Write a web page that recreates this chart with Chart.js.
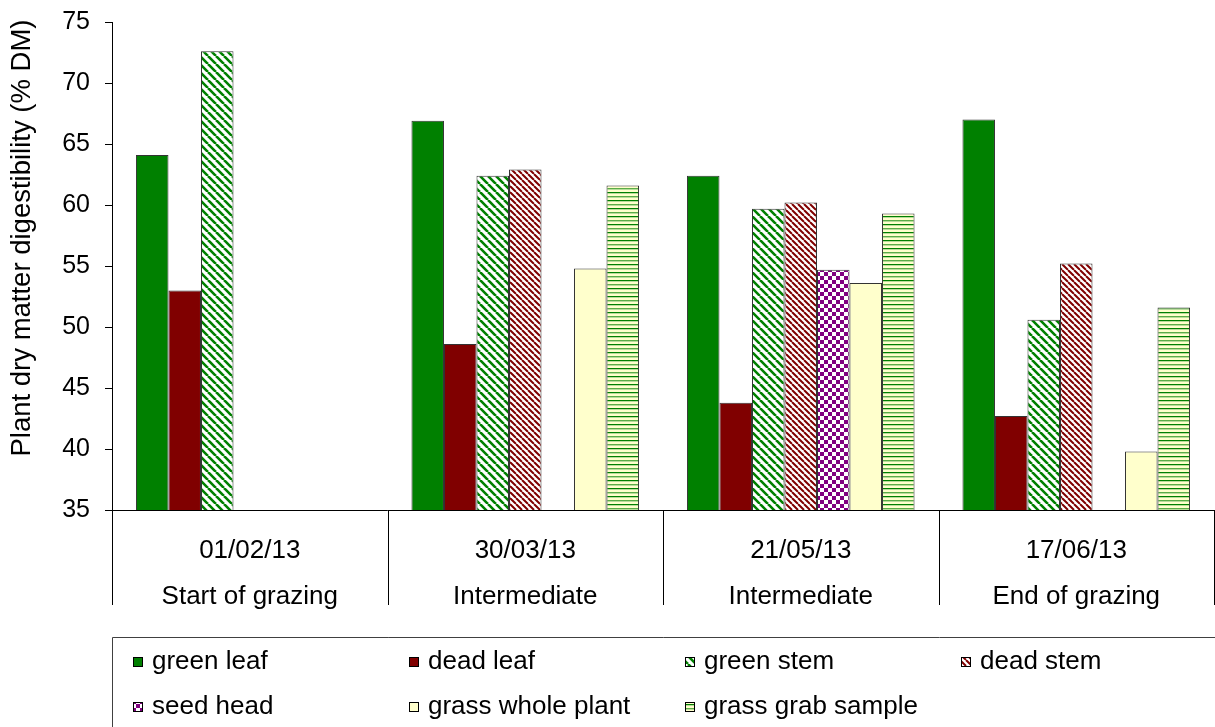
<!DOCTYPE html>
<html>
<head>
<meta charset="utf-8">
<script src="https://cdn.jsdelivr.net/npm/chart.js@4.4.1/dist/chart.umd.min.js"></script>
<style>
  html, body { margin: 0; padding: 0; background: #fff; }
  #wrap { width: 1215px; height: 727px; position: relative; }
</style>
</head>
<body>
<div id="wrap"><canvas id="chart"></canvas></div>
<script>
const dates = ['01/02/13', '30/03/13', '21/05/13', '17/06/13'];
const stages = ['Start of grazing', 'Intermediate', 'Intermediate', 'End of grazing'];
const seriesNames = ['green leaf', 'dead leaf', 'green stem', 'dead stem', 'seed head', 'grass whole plant', 'grass grab sample'];

const greenLeaf  = [64.1, 66.9, 62.4, 67.0];
const deadLeaf   = [53.0, 48.6, 43.8, 42.7];
const greenStem  = [72.6, 62.4, 59.7, 50.6];
const deadStem   = [null, 62.9, 60.2, 55.2];
const seedHead   = [null, null, 54.7, null];
const wholePlant = [null, 54.8, 53.6, 39.8];
const grabSample = [null, 61.6, 59.3, 51.6];

const yTitle = 'Plant dry matter digestibility (% DM)';
const FONT = "'Liberation Sans', Arial, sans-serif";

const canvas = document.getElementById('chart');
const ctx = canvas.getContext('2d');

function makeTile(w, h, draw) {
    const c = document.createElement('canvas');
    c.width = w;
    c.height = h;
    draw(c.getContext('2d'), w, h);
    return ctx.createPattern(c, 'repeat');
}

function diagonal(color, size, lw) {
    return makeTile(size, size, (g, s) => {
        g.fillStyle = '#fff';
        g.fillRect(0, 0, s, s);
        g.strokeStyle = color;
        g.lineWidth = lw;
        g.beginPath();
        [-s, 0, s].forEach(k => {
            g.moveTo(k, 0);
            g.lineTo(k + s, s);
        });
        g.stroke();
    });
}

function checker(color, cell) {
    return makeTile(cell * 2, cell * 2, (g, w) => {
        g.fillStyle = '#fff';
        g.fillRect(0, 0, w, w);
        g.fillStyle = color;
        g.fillRect(0, 0, cell, cell);
        g.fillRect(cell, cell, cell, cell);
    });
}

function hlines() {
    return makeTile(4, 8, g => {
        g.fillStyle = '#ffffcc';
        g.fillRect(0, 0, 4, 8);
        g.fillStyle = '#008000';
        g.fillRect(0, 0, 4, 1);
        g.fillStyle = '#5aac46';
        g.fillRect(0, 4, 4, 1);
        g.fillStyle = '#b8dc9a';
        g.fillRect(0, 1, 4, 1);
        g.fillRect(0, 5, 4, 1);
    });
}

const fills = [
    '#008000',
    '#800000',
    diagonal('#008000', 8, 2.6),
    diagonal('#800000', 6, 2),
    checker('#800080', 4),
    '#ffffcc',
    hlines()
];
const values = [greenLeaf, deadLeaf, greenStem, deadStem, seedHead, wholePlant, grabSample];

const decorations = {
    id: 'decorations',
    afterDraw(chart) {
        const { ctx, chartArea } = chart;
        const x = chart.scales.x;
        const n = chart.data.labels.length;
        const step = (x.right - x.left) / n;

        ctx.save();
        // category dividers under the axis
        ctx.strokeStyle = '#000';
        ctx.lineWidth = 1;
        ctx.beginPath();
        for (let i = 0; i <= n; i++) {
            const px = Math.min(Math.round(x.left + i * step), chart.width - 1) + 0.5;
            ctx.moveTo(px, chartArea.bottom);
            ctx.lineTo(px, 605);
        }
        ctx.stroke();

        // y axis title
        ctx.fillStyle = '#000';
        ctx.font = '27.5px ' + FONT;
        ctx.textAlign = 'center';
        ctx.textBaseline = 'middle';
        ctx.save();
        ctx.translate(22, 238);
        ctx.rotate(-Math.PI / 2);
        ctx.fillText(yTitle, 0, 0);
        ctx.restore();

        // legend box
        ctx.strokeStyle = '#404040';
        ctx.beginPath();
        ctx.moveTo(112.5, chart.height);
        ctx.lineTo(112.5, 637.5);
        ctx.lineTo(chart.width, 637.5);
        ctx.stroke();

        ctx.font = '26px ' + FONT;
        ctx.textAlign = 'left';
        chart.data.datasets.forEach((ds, i) => {
            const col = i % 4;
            const row = Math.floor(i / 4);
            const mx = 133 + col * 276;
            const my = 662 + row * 45;
            ctx.fillStyle = ds.backgroundColor;
            ctx.fillRect(mx, my - 5, 10, 10);
            ctx.strokeStyle = '#000';
            ctx.strokeRect(mx + 0.5, my - 4.5, 9, 9);
            ctx.fillStyle = '#000';
            ctx.fillText(ds.label, mx + 19, my);
        });
        ctx.restore();
    }
};

new Chart(ctx, {
    type: 'bar',
    data: {
        labels: dates.map((d, i) => [d, stages[i]]),
        datasets: seriesNames.map((name, i) => ({
            label: name,
            data: values[i],
            backgroundColor: fills[i],
            borderColor: '#333',
            borderWidth: 1,
            categoryPercentage: 0.826,
            barPercentage: 1
        }))
    },
    options: {
        responsive: true,
        maintainAspectRatio: false,
        animation: false,
        devicePixelRatio: 1,
        layout: {
            padding: { top: 22, right: 1, left: 0, bottom: 0 }
        },
        plugins: {
            legend: { display: false },
            tooltip: { enabled: false }
        },
        scales: {
            x: {
                grid: { display: false },
                border: { display: true, color: '#000', width: 1 },
                ticks: {
                    color: '#000',
                    font: { family: FONT, size: 26, lineHeight: 46 / 26 },
                    padding: 10,
                    maxRotation: 0,
                    autoSkip: false
                },
                afterFit(scale) { scale.height = 217; }
            },
            y: {
                min: 35,
                max: 75,
                ticks: {
                    stepSize: 5,
                    color: '#000',
                    font: { family: FONT, size: 25 },
                    padding: 15
                },
                grid: {
                    drawOnChartArea: false,
                    drawTicks: true,
                    tickLength: 7,
                    color: '#000'
                },
                border: { display: true, color: '#000', width: 1 },
                afterFit(scale) {
                    scale.width = 112;
                    scale.paddingTop = 0;
                    scale.paddingBottom = 0;
                }
            }
        }
    },
    plugins: [decorations]
});
</script>
</body>
</html>
